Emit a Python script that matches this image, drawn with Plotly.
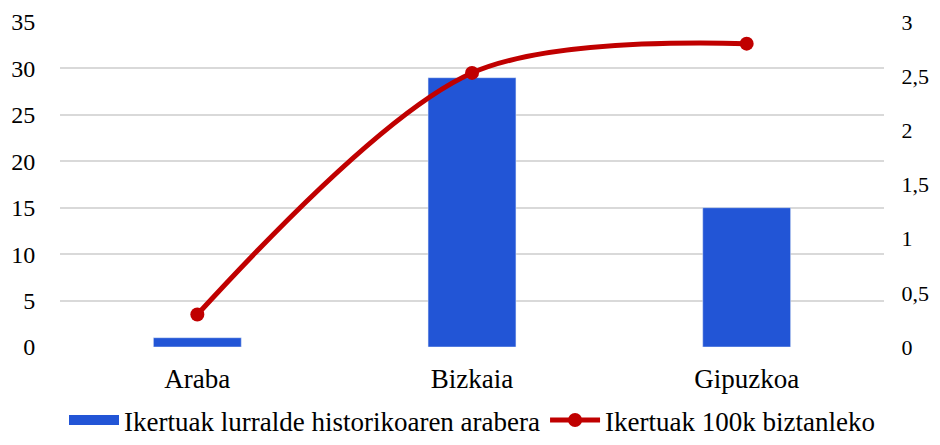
import plotly.graph_objects as go

# lurralde historikoak
lurraldeak = ["Araba", "Bizkaia", "Gipuzkoa"]
ikertuak = [1, 29, 15]
ikertuak_100k = [0.3, 2.53, 2.8]

left_ticks = [0, 5, 10, 15, 20, 25, 30, 35]
right_ticks = [0, 0.5, 1, 1.5, 2, 2.5, 3]
right_labels = ["0", "0,5", "1", "1,5", "2", "2,5", "3"]

FONT = "Liberation Serif"
BLUE = "#2255d6"
RED = "#c00000"

fig = go.Figure()

fig.add_trace(go.Bar(
    x=lurraldeak, y=ikertuak,
    name="Ikertuak lurralde historikoaren arabera",
    marker_color=BLUE, width=0.32, showlegend=False,
))
# legend entry drawn as a wide block, like the original
fig.add_trace(go.Scatter(
    x=[None], y=[None], mode="lines",
    name="Ikertuak lurralde historikoaren arabera",
    line=dict(color=BLUE, width=14),
))

fig.add_trace(go.Scatter(
    x=lurraldeak, y=ikertuak_100k,
    name="Ikertuak 100k biztanleko",
    mode="lines+markers", yaxis="y2",
    line=dict(color=RED, width=5, shape="spline", smoothing=0.9),
    marker=dict(size=14, color=RED),
))

# page body has an 8px margin, so the figure is a bit smaller than the window
fig.update_layout(
    width=932, height=437,
    margin=dict(l=52, r=56, t=14, b=98),
    plot_bgcolor="white", paper_bgcolor="white",
    font=dict(family=FONT, size=27, color="#000000"),
    showlegend=True,
    legend=dict(orientation="h", x=0.5, xanchor="center",
                yref="container", y=-0.01, yanchor="bottom",
                font=dict(family=FONT, size=27), itemwidth=50, tracegroupgap=0),
    xaxis=dict(showgrid=False, ticks="outside", ticklen=8, tickcolor="white",
               automargin=False),
    yaxis=dict(range=[0, 35], tickvals=left_ticks, showgrid=True,
               gridcolor="#d9d9d9", gridwidth=1.5, zeroline=False,
               ticks="outside", ticklen=19, tickcolor="white", automargin=False,
               ticklabeloverflow="allow", tickfont=dict(size=24)),
    yaxis2=dict(range=[0, 3], overlaying="y", side="right",
                tickvals=right_ticks, ticktext=right_labels,
                showgrid=False, zeroline=False,
                ticks="outside", ticklen=12, tickcolor="white", automargin=False,
                ticklabeloverflow="allow", tickfont=dict(size=22)),
)

fig.write_html("out.html")
